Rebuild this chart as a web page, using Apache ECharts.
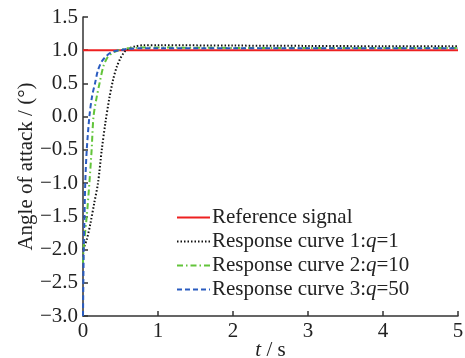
<!DOCTYPE html>
<html><head><meta charset="utf-8">
<script src="https://cdn.jsdelivr.net/npm/echarts@6/dist/echarts.min.js"></script>
<style>html,body{margin:0;padding:0;background:#fff}#c{width:465px;height:358px}</style>
</head><body><div id="c"></div>
<script>
var xTicks = [0, 1, 2, 3, 4, 5];
var yTicks = [-3.0, -2.5, -2.0, -1.5, -1.0, -0.5, 0.0, 0.5, 1.0, 1.5];
var seriesNames = ['Reference signal', 'Response curve 1:q=1', 'Response curve 2:q=10', 'Response curve 3:q=50'];

var refT = [0, 5];
var refY = [1.0, 1.0];

var c1T = [0, 0.05, 0.1, 0.15, 0.2, 0.25, 0.3, 0.35, 0.4, 0.45, 0.5, 0.55, 0.6, 0.7, 0.8, 1.0, 2.0, 3.0, 4.0, 5.0];
var c1Y = [-2.0, -1.85, -1.6, -1.3, -1.0, -0.5, -0.08, 0.27, 0.55, 0.75, 0.88, 0.97, 1.02, 1.06, 1.075, 1.075, 1.07, 1.065, 1.06, 1.06];

var c2T = [0, 0.01, 0.05, 0.085, 0.115, 0.14, 0.18, 0.22, 0.27, 0.32, 0.38, 0.45, 0.5, 0.6, 0.8, 1.0, 2.0, 3.0, 5.0];
var c2Y = [-2.2, -1.95, -1.5, -1.0, -0.5, 0.0, 0.28, 0.5, 0.75, 0.88, 0.95, 0.99, 1.01, 1.03, 1.04, 1.04, 1.035, 1.035, 1.035];

var c3T = [0, 0.01, 0.02, 0.03, 0.05, 0.085, 0.12, 0.16, 0.2, 0.25, 0.3, 0.35, 0.4, 0.5, 0.6, 0.8, 1.0, 2.0, 3.0, 5.0];
var c3Y = [-3.0, -2.0, -1.5, -1.0, -0.5, 0.0, 0.3, 0.5, 0.7, 0.83, 0.9, 0.95, 0.98, 1.0, 1.02, 1.03, 1.03, 1.03, 1.03, 1.03];

function pairs(t, y) { return t.map(function (v, i) { return [v, y[i]]; }); }

var FONT = '"Liberation Serif", "Times New Roman", serif';
var TXT = '#222';
var chart = echarts.init(document.getElementById('c'), null, {renderer: 'canvas'});
chart.setOption({
  animation: false,
  backgroundColor: '#fff',
  textStyle: {fontFamily: FONT},
  grid: {left: 83, right: 7, top: 17, bottom: 42, containLabel: false, outerBoundsMode: 'none'},
  legend: {
    orient: 'vertical', left: 171, top: 202,
    itemWidth: 33, itemHeight: 14, itemGap: 3,
    itemStyle: {opacity: 0},
    data: seriesNames,
    textStyle: {
      fontFamily: FONT, fontSize: 21, color: TXT, padding: [0, 0, 0, -3],
      rich: {i: {fontFamily: FONT, fontSize: 21, fontStyle: 'italic', color: TXT}}
    },
    formatter: function (n) { return n.replace(':q=', ':{i|q}='); }
  },
  xAxis: {
    type: 'value', min: 0, max: 5, interval: 1,
    name: '{i|t} / s', nameLocation: 'middle', nameGap: 24, nameMoveOverlap: false,
    nameTextStyle: {fontFamily: FONT, fontSize: 21, color: TXT,
      rich: {i: {fontFamily: FONT, fontSize: 21, fontStyle: 'italic', color: TXT}}},
    axisLine: {show: true, onZero: false, lineStyle: {color: '#333', width: 1.5}},
    axisTick: {show: true, inside: true, length: 5, lineStyle: {color: '#333', width: 1.5}},
    axisLabel: {fontFamily: FONT, fontSize: 21, color: TXT, margin: 5,
      formatter: function (v) { return xTicks.indexOf(v) >= 0 ? String(v) : ''; }},
    splitLine: {show: false}
  },
  yAxis: {
    type: 'value', min: -3, max: 1.5, interval: 0.5,
    name: 'Angle of attack / (°)', nameLocation: 'middle', nameGap: 46, nameMoveOverlap: false,
    nameTextStyle: {fontFamily: FONT, fontSize: 21, color: TXT},
    axisLine: {show: true, onZero: false, lineStyle: {color: '#333', width: 1.5}},
    axisTick: {show: true, inside: true, length: 5, lineStyle: {color: '#333', width: 1.5}},
    axisLabel: {fontFamily: FONT, fontSize: 21, color: TXT, margin: 5,
      formatter: function (v) { return (v < 0 ? '\u2212' : '') + Math.abs(v).toFixed(1); }},
    splitLine: {show: false}
  },
  series: [
    {name: seriesNames[0], type: 'line', data: pairs(refT, refY), showSymbol: false, symbol: 'none',
      lineStyle: {color: '#ee2020', width: 2}, itemStyle: {color: '#ee2020'}},
    {name: seriesNames[1], type: 'line', data: pairs(c1T, c1Y), showSymbol: false, symbol: 'none', smooth: 0.3,
      lineStyle: {color: '#111', width: 2, type: [1.5, 2]}, itemStyle: {color: '#111'}},
    {name: seriesNames[2], type: 'line', data: pairs(c2T, c2Y), showSymbol: false, symbol: 'none', smooth: 0.3,
      lineStyle: {color: '#62c43a', width: 2, type: [6, 3, 1.5, 3]}, itemStyle: {color: '#62c43a'}},
    {name: seriesNames[3], type: 'line', data: pairs(c3T, c3Y), showSymbol: false, symbol: 'none', smooth: 0.3,
      lineStyle: {color: '#2a5cc0', width: 2, type: [5, 3]}, itemStyle: {color: '#2a5cc0'}}
  ]
});
</script></body></html>
